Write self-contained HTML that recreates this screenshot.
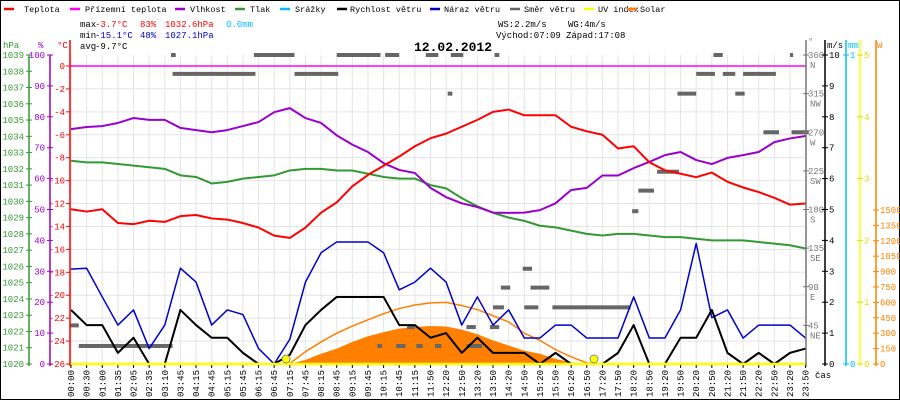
<!DOCTYPE html>
<html><head><meta charset="utf-8"><style>
html,body{margin:0;padding:0;background:#fff;}
svg{display:block;font-family:"Liberation Mono",monospace;}
</style></head><body>
<svg id="chart" width="900" height="400" viewBox="0 0 900 400" xmlns="http://www.w3.org/2000/svg">
<rect x="0.5" y="0.5" width="899" height="399" fill="#fff" stroke="#000"/>
<g id="grid"></g>
<g id="marks"></g>
<g id="axes"></g>
<g id="legend" font-size="8.5"></g>
<g font-size="9">
<text x="80" y="27" fill="#000">max</text><text x="95" y="27" fill="#f00">-3.7°C</text><text x="140" y="27" fill="#f00">83%</text><text x="165" y="27" fill="#f00">1032.6hPa</text><text x="226" y="27" fill="#00bfff">0.0mm</text>
<text x="80" y="38" fill="#000">min</text><text x="95" y="38" fill="#00c">-15.1°C</text><text x="140" y="38" fill="#00c">48%</text><text x="165" y="38" fill="#00c">1027.1hPa</text>
<text x="80" y="49" fill="#000">avg</text><text x="95" y="49" fill="#000">-9.7°C</text>
<text x="498" y="27" fill="#000">WS:2.2m/s</text><text x="568" y="27" fill="#000">WG:4m/s</text>
<text x="496" y="38" fill="#000">Východ:07:09</text><text x="566" y="38" fill="#000">Západ:17:08</text>
<text x="414" y="51" font-size="13" font-weight="bold" fill="#000">12.02.2012</text>
<text x="815" y="378" fill="#000">čas</text>
</g>
</svg>
<script>
const timeLabels=["00:00","00:30","01:00","01:35","02:05","02:35","03:10","03:45","04:15","04:45","05:15","05:45","06:15","06:45","07:15","07:45","08:15","08:45","09:15","09:45","10:15","10:45","11:15","11:50","12:20","12:50","13:20","13:50","14:20","14:50","15:20","15:50","16:20","16:50","17:20","17:50","18:20","18:50","19:20","19:50","20:20","20:50","21:20","21:50","22:20","22:50","23:20","23:50"];
const temperature=[-12.5,-12.7,-12.5,-13.7,-13.8,-13.5,-13.6,-13.1,-13.0,-13.3,-13.4,-13.7,-14.1,-14.8,-15.0,-14.1,-12.8,-11.9,-10.5,-9.5,-8.7,-7.9,-7.0,-6.3,-5.9,-5.3,-4.7,-4.0,-3.8,-4.3,-4.3,-4.3,-5.3,-5.7,-6.0,-7.2,-7.0,-8.4,-9.1,-9.4,-9.7,-9.3,-10.1,-10.6,-11.0,-11.5,-12.1,-12.0];
const humidity=[76,76.7,77,78,79.6,79,79,76.4,75.7,75,75.7,77,78.3,81.5,82.8,79.6,78,74,71,68.6,65,62.8,61.8,57,54,52,50.8,49,48.9,49,49.8,52,56.3,57,61,61,63.4,65.4,67.6,68.6,66,64.7,66.7,67.6,68.6,71.8,73,73.8];
const pressure=[1032.5,1032.4,1032.4,1032.3,1032.2,1032.1,1032.0,1031.6,1031.5,1031.1,1031.2,1031.4,1031.5,1031.6,1031.9,1032.0,1032.0,1031.9,1031.9,1031.7,1031.5,1031.4,1031.4,1031.0,1030.8,1030.2,1029.7,1029.3,1029.0,1028.8,1028.5,1028.4,1028.2,1028.0,1027.9,1028.0,1028.0,1027.9,1027.8,1027.8,1027.7,1027.6,1027.6,1027.6,1027.5,1027.4,1027.3,1027.1];
const windSpeed=[1.75,1.26,1.26,0.36,0.85,0,0,1.75,1.26,0.85,0.85,0.36,0,0,0.3,1.26,1.75,2.17,2.17,2.17,2.17,1.26,1.26,0.85,1.0,0.36,0.85,0.36,0.36,0.36,0,0.36,0,0,0,0.36,1.26,0,0,0.85,0.85,1.75,0.36,0,0.36,0,0.36,0.5];
const windGust=[3.07,3.1,2.17,1.26,1.75,0.5,1.26,3.1,2.65,1.26,1.75,1.6,0.5,0,0.8,2.65,3.6,3.95,3.95,3.95,3.6,2.4,2.65,3.1,2.65,1.26,2.17,1.26,1.75,0.84,0.84,1.26,1.26,0.84,0.84,0.84,2.17,0.84,0.84,1.75,3.9,1.5,1.75,0.84,1.26,1.26,1.26,0.84];
const solarActual=[0,0,0,0,0,0,0,0,0,0,0,0,0,0,0,40,100,150,215,270,310,345,360,370,365,335,290,230,180,130,100,50,15,0,0,0,0,0,0,0,0,0,0,0,0,0,0,0];
const solarTheory=[0,0,0,0,0,0,0,0,0,0,0,0,0,0,5,120,215,300,370,430,490,540,575,595,600,570,530,470,410,300,230,140,70,10,0,0,0,0,0,0,0,0,0,0,0,0,0,0];
const dirStart=[6.4,11.7,17,20.1,22.7,24.3,27.1,41.1,46,6.5,14.3,40,41.7,43,24.1,38.8,42.5,44.3,46.1,37.5,36.3,35.9,28.9,27.5,29.4,27,29,30.8,25.3,26.8,23.3,25.3,-0.1,0.5,19.6,20.8,22.1,23.3,21.5];
const dirEnd=[6.7,14.3,19.8,21,23.5,25.1,27.4,41.7,46.2,11.8,17.1,41.2,42.5,45.1,24.4,40,43.1,45.3,47.2,38.9,37.3,36.3,29.5,28.1,30.6,27.7,29.9,35.8,25.9,27.4,23.7,26.3,0.5,6.5,19.9,21.4,22.5,23.5,22];
const dirDeg=[360,360,360,360,360,360,360,360,360,338,338,338,338,338,315,315,315,270,270,224,202,178,111,89,89,66,66,66,43,43,21,21,45,21,21,21,21,21,43];

const NS='http://www.w3.org/2000/svg';
const X0=71,DX=15.63;
function xi(i){return X0+i*DX;}
function yT(t){return 66+(-t)*(298/26);}
function yP(h){return 55+(1039-h)*(309/19);}
function yH(p){return 364-p*3.09;}
function yW(v){return 364-v*30.9;}
function yS(w){return 364-w*(154/1500);}
function yD(d){return 364-d*(309/360);}
function mk(tag,attrs,parent){const e=document.createElementNS(NS,tag);for(const k in attrs)e.setAttribute(k,attrs[k]);parent.appendChild(e);return e;}
const grid=document.getElementById('grid'),marks=document.getElementById('marks'),axes=document.getElementById('axes'),legend=document.getElementById('legend');

for(let i=0;i<timeLabels.length;i++){const l=mk('line',{x1:xi(i),x2:xi(i),y1:55,y2:364,stroke:'#e4e4e4'},grid);

}
for(let t=0;t>=-26;t-=2){const l=mk('line',{x1:70,x2:806,y1:yT(t),y2:yT(t),stroke:'#e4e4e4'},grid);

}

let sp='M'+xi(0)+','+yS(0);
solarActual.forEach((w,i)=>{sp+=' L'+xi(i)+','+yS(w);});
sp+=' L'+xi(solarActual.length-1)+','+yS(0)+' Z';
const sa=mk('path',{d:sp,fill:'#ff8000',stroke:'none'},marks);


function poly(arr,fy,color,name,w,off){off=off||0;const pts=arr.map((v,i)=>xi(i+off)+','+fy(v)).join(' ');const p=mk('polyline',{points:pts,fill:'none',stroke:color,'stroke-width':w||2,'stroke-linejoin':'round'},marks);

return p;}
poly(solarTheory.slice(14,35),yS,'#ff8000','solar-theory-line',1.5,14);
for(let k=0;k<dirDeg.length;k++){const r=mk('rect',{x:xi(dirStart[k]),y:yD(dirDeg[k])-2,width:Math.max(3,(dirEnd[k]-dirStart[k])*DX),height:4,fill:'#666'},marks);

}
const ap=mk('line',{x1:70,x2:806,y1:yT(0),y2:yT(0),stroke:'#f0f','stroke-width':1.5},marks);


poly(pressure,yP,'#339933','pressure-line');
poly(humidity,yH,'#9900cc','humidity-line');
poly(temperature,yT,'#f00','temperature-line');
poly(windGust,yW,'#0000cc','wind-gust-line',1.5);
poly(windSpeed,yW,'#000','wind-speed-line',2);
const uv=mk('line',{x1:70,x2:806,y1:364,y2:364,stroke:'#ff0','stroke-width':2.5},marks);


[[286,'sunrise-marker'],[594,'sunset-marker']].forEach(([x,n])=>{const c=mk('circle',{cx:x,cy:359,r:4,fill:'#ff0',stroke:'#888','stroke-width':1},marks);

});

function txt(s,x,y,color,anchor,parent,name,size){const t=mk('text',{x:x,y:y,fill:color,'font-size':size||9,'text-anchor':anchor||'start'},parent||axes);t.textContent=s;

return t;}
function vline(x,y1,y2,c,name){const l=mk('line',{x1:x,x2:x,y1:y1,y2:y2,stroke:c,'stroke-width':1.5},axes);

}
vline(29,55,366,'#339933','pressure-axis');vline(50,55,366,'#9900cc','humidity-axis');vline(70,40,366,'#f00','temperature-axis');
vline(806,40,366,'#777','direction-axis');vline(825,40,366,'#000','wind-axis');vline(846,40,366,'#00bfff','rain-axis');vline(860,40,366,'#ff0','uv-axis');vline(876,40,366,'#ff8000','solar-axis');
txt('hPa',3,48,'#339933','start',axes,'pressure-axis-title');txt('%',38,48,'#9900cc','start',axes,'humidity-axis-title');txt('°C',57,48,'#f00','start',axes,'temperature-axis-title');
for(let h=1020;h<=1039;h++){const y=yP(h);mk('line',{x1:26,x2:32,y1:y,y2:y,stroke:'#339933'},axes);txt(String(h),24,y+3,'#339933','end',axes,'pressure-tick-label');}
for(let p=0;p<=100;p+=10){const y=yH(p);mk('line',{x1:47,x2:53,y1:y,y2:y,stroke:'#9900cc'},axes);txt(String(p),45,y+3,'#9900cc','end',axes,'humidity-tick-label');}
for(let t=0;t>=-26;t-=2){const y=yT(t);mk('line',{x1:66,x2:70,y1:y,y2:y,stroke:'#f00'},axes);txt(String(t),65,y+3,'#f00','end',axes,'temperature-tick-label');}
const dirs=[[360,'N'],[315,'NW'],[270,'W'],[225,'SW'],[180,'S'],[135,'SE'],[90,'E'],[45,'NE']];
txt('°',808,44,'#777','start',axes,'direction-axis-title');
dirs.forEach(([d,n])=>{const y=yD(d);mk('line',{x1:803,x2:809,y1:y,y2:y,stroke:'#777'},axes);txt(String(d),808,y+3,'#777','start',axes,'direction-tick-label');txt(n,810,y+13,'#777','start',axes,'direction-tick-label');});
txt('m/s',827,48,'#000','start',axes,'wind-axis-title');txt('mm',848,48,'#00bfff','start',axes,'rain-axis-title');txt('W',877,48,'#ff8000','start',axes,'solar-axis-title');
for(let v=0;v<=10;v++){const y=yW(v);mk('line',{x1:822,x2:828,y1:y,y2:y,stroke:'#000'},axes);txt(String(v),829,y+3,'#000','start',axes,'wind-tick-label');}
[[0,364],[1,55]].forEach(([v,y])=>{mk('line',{x1:843,x2:849,y1:y,y2:y,stroke:'#00bfff'},axes);txt(String(v),850,y+3,'#00bfff','start',axes,'rain-tick-label');});
for(let u=0;u<=5;u++){const y=364-u*61.8;mk('line',{x1:857,x2:863,y1:y,y2:y,stroke:'#dd0'},axes);txt(String(u),864,y+3,'#dd0','start',axes,'uv-tick-label');}
for(let w=0;w<=1500;w+=150){const y=yS(w);mk('line',{x1:873,x2:879,y1:y,y2:y,stroke:'#ff8000'},axes);txt(String(w),880,y+3,'#ff8000','start',axes,'solar-tick-label');}
timeLabels.forEach((s,i)=>{const x=xi(i);mk('line',{x1:x,x2:x,y1:365,y2:368,stroke:'#000'},axes);const t=txt(s,0,0,'#000','end',axes,'time-tick-label');t.setAttribute('transform','translate('+(x+3)+',370) rotate(-90)');});

const legItems=[['Teplota','#f00',4,24],['Přízemní teplota','#f0f',70,85],['Vlhkost','#9900cc',175,190],['Tlak','#339933',235,250],['Srážky','#00bfff',280,295],['Rychlost větru','#000',337,350],['Náraz větru','#0000cc',430,444],['Směr větru','#666',510,524],['UV index','#ff0',584,598],['Solar','#ff8000',627,640]];
legItems.forEach(([n,c,lx,tx])=>{const g=mk('g',{},legend);


mk('line',{x1:lx,x2:lx+10,y1:9,y2:9,stroke:c,'stroke-width':2.5},g);
const t=mk('text',{x:tx,y:12,fill:'#000','font-size':8.5},g);t.textContent=n;});
</script>
</body></html>
